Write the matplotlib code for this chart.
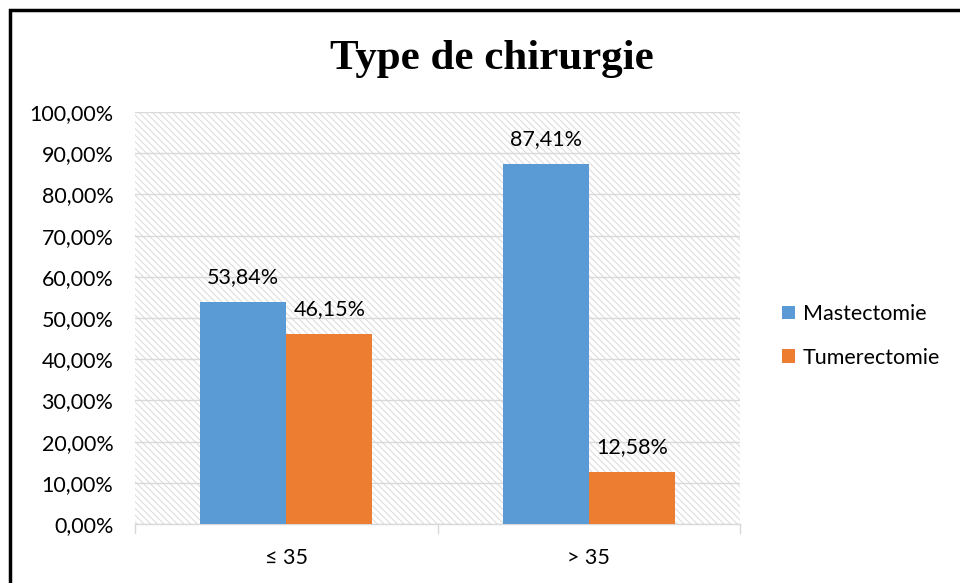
import numpy as np
import matplotlib.pyplot as plt
from matplotlib.patches import Rectangle

categories = ["≤ 35", "> 35"]
mastectomie = [53.84, 87.41]
tumerectomie = [46.15, 12.58]
series_names = ["Mastectomie", "Tumerectomie"]
colors = ["#5B9BD5", "#ED7D31"]

plt.rcParams['font.family'] = ['Lato', 'DejaVu Sans']
plt.rcParams['hatch.color'] = '#dedede'
plt.rcParams['hatch.linewidth'] = 0.8

fig = plt.figure(figsize=(9.6, 5.83), dpi=100)
ax = fig.add_axes([135/960, 1 - 524/583, (740 - 135)/960, (524 - 112)/583])

# frame around the chart (only top and left edges fall inside the image)
fig.patches.append(Rectangle((10/960, -0.05), 1.1, 1 - 10/583 + 0.05, transform=fig.transFigure,
                             fill=False, edgecolor='black', linewidth=2.5))

# hatched plot area background
ax.add_patch(Rectangle((0, 0), 1, 1, transform=ax.transAxes, facecolor='white',
                       hatch='\\\\\\\\\\', edgecolor='#dedede', linewidth=0, zorder=0))

x = np.arange(len(categories))
w = 0.285
b1 = ax.bar(x - w/2, mastectomie, w, color=colors[0], label=series_names[0], zorder=3)
b2 = ax.bar(x + w/2, tumerectomie, w, color=colors[1], label=series_names[1], zorder=3)

for bars, vals in ((b1, mastectomie), (b2, tumerectomie)):
    for bar, v in zip(bars, vals):
        ax.text(bar.get_x() + bar.get_width()/2, v + 3.7, f"{v:.2f}%".replace('.', ','),
                ha='center', va='bottom', fontsize=15.5, color='#000000', zorder=4)

ax.set_xlim(-0.5, 1.5)
ax.set_ylim(0, 100)
ax.set_yticks(np.arange(0, 101, 10))
ax.set_yticklabels([f"{t:.2f}%".replace('.', ',') for t in np.arange(0, 101, 10)], fontsize=15.5)
ax.set_xticks(x)
ax.set_xticklabels(categories, fontsize=15.5)
ax.tick_params(axis='y', length=0, pad=15.5)
ax.tick_params(axis='x', length=0, pad=17)
ax.grid(axis='y', color='#d9d9d9', linewidth=1, zorder=1)
for s in ('top', 'right', 'left'):
    ax.spines[s].set_visible(False)
ax.spines['bottom'].set_color('#d9d9d9')
ax.spines['bottom'].set_linewidth(1)
# category boundary ticks
for xb in (-0.5, 0.5, 1.5):
    ax.plot([xb, xb], [0, -2.2], color='#d9d9d9', linewidth=1, clip_on=False)

fig.text(492/960, 1 - 59/583, "Type de chirurgie", ha='center', va='center',
         fontsize=31, fontweight='bold', family='Liberation Serif')

fig.legend(handles=[b1, b2], loc='center left', bbox_to_anchor=(763/960, 1 - 336/583),
           frameon=False, fontsize=15.5, handlelength=0.6, handleheight=0.6,
           handletextpad=0.35, labelspacing=1.1)

fig.savefig("out.png", dpi=100)
